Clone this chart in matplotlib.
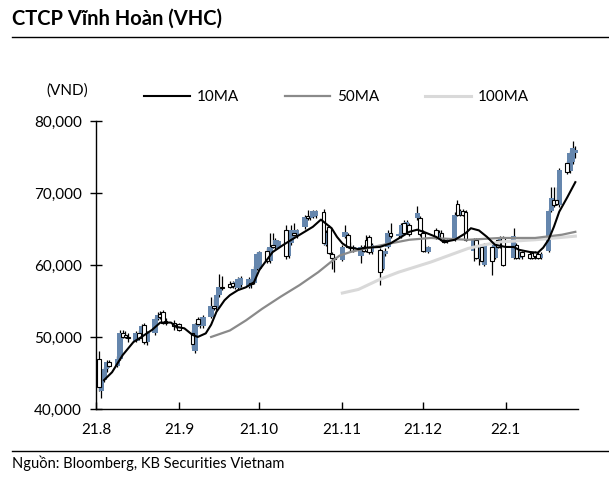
import matplotlib
matplotlib.use("Agg")
import matplotlib.pyplot as plt
import matplotlib.dates as mdates
from matplotlib.lines import Line2D
import numpy as np
import pandas as pd

plt.rcParams["font.family"] = ["Lato", "DejaVu Sans"]

# trading days (HOSE), Aug 2 2021 - Jan 27 2022
holidays = ["2021-09-02", "2021-09-03", "2022-01-03"]
days = pd.bdate_range("2021-08-02", "2022-01-27")
days = days[~days.isin(pd.to_datetime(holidays))]

opens = [
    # Aug
    47000, 42500, 44000, 45500, 46500, 46000, 47000, 50500, 50300, 50000, 49500,
    50500, 49800, 51700, 49300, 50500, 52500, 53200, 53500, 52200, 52000, 51500,
    # Sep
    51800, 50500, 48000, 52500, 51500, 51500, 52800, 54300, 54000, 55800, 57000,
    57300, 57500, 57000, 56800, 57200, 57000, 57500, 57500, 59500,
    # Oct
    59500, 62000, 60500, 62800, 62400, 62500, 64900, 61200, 63000, 64500, 64000,
    65300, 66800, 66500, 66700, 66800, 67400, 62800, 65300, 61500, 61000,
    # Nov
    60700, 63900, 64200, 62500, 62200, 61200, 62500, 63500, 63900, 61800, 62100,
    59500, 61500, 62500, 64500, 64000, 64000, 65800, 64500, 65500, 66500, 66500,
    # Dec
    64500, 62000, 61800, 64900, 63800, 64500, 63500, 63300, 63500, 68500, 67000,
    67500, 67400, 62000, 63500, 60800, 62500, 60000, 62500, 61000, 63500, 62500, 63800,
    # Jan
    61000, 62800, 61000, 61800, 61500, 61600, 61800, 61500, 61000, 62000, 67500,
    69000, 69000, 68300, 74100, 73000, 74300, 75500,
]
highs = [
    48000, 44500, 45800, 46800, 46800, 47300, 51000, 51000, 50800, 50500, 50800,
    51000, 51800, 52000, 50800, 52800, 53500, 53600, 53800, 52600, 52300, 52000,
    52000, 51000, 52000, 52800, 52800, 53000, 55500, 55300, 56000, 58800, 58500,
    57800, 57800, 57800, 58300, 58500, 58300, 57900, 59800, 61800,
    62000, 62300, 64500, 64500, 63800, 63500, 65500, 64300, 65500, 65800, 65000,
    66900, 67600, 67000, 67700, 67700, 67800, 64800, 65500, 61800, 61300,
    62800, 65500, 64500, 63200, 62800, 62800, 62800, 64200, 64200, 63000, 62300,
    61800, 62300, 64800, 65800, 64600, 65800, 66200, 66300, 65800, 68200, 66800,
    64800, 62800, 62700, 65200, 64800, 64900, 63800, 63800, 67300, 69000, 67800,
    67800, 67600, 63800, 63700, 62800, 62700, 63000, 62800, 63200, 63800, 64000, 64000,
    65100, 63000, 62000, 62000, 62000, 61800, 62000, 61800, 61800, 67800, 70800,
    70800, 70800, 73400, 74500, 75800, 77200, 76500,
]
lows = [
    42500, 41500, 43800, 45200, 45800, 45800, 46800, 49800, 49800, 49300, 49300,
    49600, 49600, 49000, 48900, 50300, 52300, 52500, 51800, 51700, 51000, 51200,
    50800, 48500, 47800, 51500, 51300, 51300, 52600, 53800, 53800, 55500, 56500,
    56800, 56800, 56600, 56500, 57000, 56800, 56800, 57300, 59300,
    59300, 60300, 60300, 62300, 62200, 62300, 60800, 61000, 62800, 64000, 63800,
    65000, 66300, 66300, 66500, 66500, 62800, 62600, 61500, 59500, 59000,
    60500, 63700, 62300, 62000, 61800, 60300, 61800, 61800, 61500, 61500, 57200,
    59300, 61300, 62300, 63800, 63700, 63800, 64300, 64300, 64000, 66300, 64000,
    61800, 61800, 61600, 63600, 63600, 63300, 63000, 63000, 63300, 66800, 66800,
    66800, 63300, 60500, 60800, 60000, 60300, 59800, 58600, 60800, 62300, 62300, 59800,
    60800, 60800, 60800, 60800, 60800, 60800, 60800, 60800, 60800, 61800, 67300,
    68000, 68300, 68000, 72700, 72800, 74000, 74800,
]
closes = [
    43000, 44000, 45500, 46500, 46000, 47000, 50500, 50000, 50000, 49800, 50500,
    49800, 51500, 49300, 50500, 52500, 53000, 52800, 52000, 52000, 51500, 51800,
    51000, 49000, 51800, 51800, 52500, 52800, 54300, 54000, 55800, 57000, 56800,
    57000, 57100, 57600, 58000, 58200, 58000, 57300, 59500, 61500,
    61800, 60500, 62500, 62500, 63500, 63300, 61200, 64000, 64800, 64200, 64800,
    66700, 66500, 66800, 67500, 67500, 63000, 64500, 61700, 61000, 60800,
    62500, 64600, 62500, 62300, 62500, 62500, 62000, 62000, 61800, 62800, 59000,
    61500, 62000, 64500, 64000, 64300, 65500, 64500, 66000, 64300, 67200, 64300,
    62000, 62500, 62500, 63800, 64500, 63500, 63200, 63500, 67000, 67000, 67500,
    67000, 63500, 63500, 61000, 62500, 60500, 62800, 60500, 63000, 62500, 63800, 60000,
    64000, 61000, 61800, 61200, 61000, 61000, 61200, 61000, 61500, 67500, 69300,
    68300, 68500, 73200, 72900, 75500, 76200, 76000,
]

# moving averages
ma10_dates = ["2021-08-04", "2021-08-07", "2021-08-11", "2021-08-15", "2021-08-18",
              "2021-08-22", "2021-08-25", "2021-08-29", "2021-08-31", "2021-09-03",
              "2021-09-06", "2021-09-08", "2021-09-11", "2021-09-13", "2021-09-15",
              "2021-09-18", "2021-09-20", "2021-09-23", "2021-09-26", "2021-09-29",
              "2021-10-01", "2021-10-06", "2021-10-10", "2021-10-13", "2021-10-17",
              "2021-10-21", "2021-10-24", "2021-10-25", "2021-10-28", "2021-10-30",
              "2021-11-01", "2021-11-03", "2021-11-07", "2021-11-10", "2021-11-15",
              "2021-11-19", "2021-11-23", "2021-11-26", "2021-11-29", "2021-12-02",
              "2021-12-06", "2021-12-09", "2021-12-13", "2021-12-17", "2021-12-19",
              "2021-12-22", "2021-12-25", "2021-12-28", "2022-01-01", "2022-01-04",
              "2022-01-06", "2022-01-10", "2022-01-13", "2022-01-15", "2022-01-17",
              "2022-01-19", "2022-01-21", "2022-01-24", "2022-01-27"]
ma10 = [44000, 45100, 47500, 49300, 50000, 51000, 52000, 52000, 51400, 51200,
        50300, 50000, 50500, 51700, 53500, 55100, 55800, 56500, 56900, 57600,
        59300, 61800, 62800, 63500, 64400, 65300, 66300, 66000, 65100, 63900,
        63000, 62500, 62200, 62400, 62500, 63000, 63900, 64600, 64900, 64500,
        63900, 63200, 63500, 64400, 65100, 64800, 63900, 62800, 62500, 62500,
        62100, 61800, 61700, 62400, 63500, 65300, 67400, 69400, 71500]

ma50_dates = ["2021-09-13", "2021-09-20", "2021-09-26", "2021-10-02", "2021-10-09",
              "2021-10-16", "2021-10-23", "2021-10-28", "2021-10-31", "2021-11-04",
              "2021-11-11", "2021-11-19", "2021-11-26", "2021-12-04", "2021-12-18",
              "2021-12-30", "2022-01-12", "2022-01-22", "2022-01-27"]
ma50 = [50000, 50900, 52300, 53900, 55600, 57200, 59000, 60500, 61300, 61800,
        62400, 63000, 63500, 63750, 63500, 63750, 63750, 64200, 64600]

ma100_dates = ["2021-11-01", "2021-11-07", "2021-11-15", "2021-11-22", "2021-12-04",
               "2021-12-18", "2021-12-24", "2021-12-30", "2022-01-12", "2022-01-27"]
ma100 = [56100, 56600, 58000, 59000, 60400, 62300, 62800, 63200, 63500, 64000]

BLUE = "#6586ad"

fig = plt.figure(figsize=(6.09, 4.8), dpi=100)
ax = fig.add_axes([0.1576, 0.148, 0.7915, 0.600])

o = np.array(opens)
c = np.array(closes)
up = c >= o
x = mdates.date2num(days)

ax.vlines(x, lows, highs, color="black", lw=0.9, zorder=2)
ax.bar(x[up], (c - o)[up], bottom=o[up], width=2.0, color=BLUE,
       edgecolor="none", zorder=3)
ax.bar(x[~up], (o - c)[~up], bottom=c[~up], width=1.4, color="white",
       edgecolor="black", linewidth=0.8, zorder=3)

ax.plot(pd.to_datetime(ma100_dates), ma100, color="#d9d9d9", lw=2.2, zorder=4,
        label="100MA")
ax.plot(pd.to_datetime(ma50_dates), ma50, color="#8a8a8a", lw=1.6, zorder=5,
        label="50MA")
ax.plot(pd.to_datetime(ma10_dates), ma10, color="black", lw=1.5, zorder=6,
        label="10MA")

ax.set_ylim(40000, 80000)
ax.set_yticks(range(40000, 80001, 10000))
ax.yaxis.set_major_formatter(plt.FuncFormatter(lambda v, p: f"{int(v):,}"))
ax.set_xlim(pd.Timestamp("2021-08-01"), pd.Timestamp("2022-01-28"))
ax.xaxis.set_major_locator(mdates.MonthLocator())
ax.xaxis.set_major_formatter(
    plt.FuncFormatter(lambda v, p: "{}.{}".format(mdates.num2date(v).year % 100,
                                                  mdates.num2date(v).month)))

for s in ["top", "right"]:
    ax.spines[s].set_visible(False)
for s in ["left", "bottom"]:
    ax.spines[s].set_linewidth(1.0)
ax.tick_params(axis="y", direction="inout", length=8, width=1, labelsize=11, pad=6)
ax.tick_params(axis="x", direction="in", length=5, width=1, labelsize=11, pad=10)

handles, labels = ax.get_legend_handles_labels()
order = [2, 1, 0]
fig.legend([handles[i] for i in order], [labels[i] for i in order],
           loc="center left", bbox_to_anchor=(0.236, 0.798), ncol=3, frameon=False,
           fontsize=11, handlelength=3.0, handletextpad=0.45, columnspacing=3.0,
           borderpad=0, borderaxespad=0)

fig.text(0.145, 0.812, "(VND)", ha="right", va="center", fontsize=11)
fig.text(0.02, 0.962, "CTCP Vĩnh Hoàn (VHC)", ha="left", va="center",
         fontsize=14.5, fontweight="bold")
fig.add_artist(Line2D([0.02, 1.0], [0.923, 0.923], color="black", lw=1.0,
                      transform=fig.transFigure))
fig.add_artist(Line2D([0.02, 1.0], [0.06, 0.06], color="black", lw=1.0,
                      transform=fig.transFigure))
fig.text(0.02, 0.034, "Nguồn: Bloomberg, KB Securities Vietnam", ha="left",
         va="center", fontsize=10.5)

fig.savefig("out.png", dpi=100)
